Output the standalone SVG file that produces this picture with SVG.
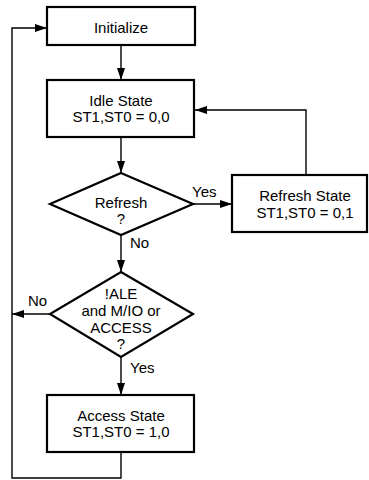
<svg xmlns="http://www.w3.org/2000/svg" width="369" height="480" viewBox="0 0 369 480">
<style>
.box{fill:#fff;stroke:#000;stroke-width:2.2}
.ln{fill:none;stroke:#000;stroke-width:1.4}
text{font-family:"Liberation Sans",Arial,Helvetica,sans-serif;font-size:15px;fill:#000;text-anchor:middle}
.lbl{text-anchor:start}
</style>
<defs>
<marker id="ah" viewBox="0 0 12 8" refX="12" refY="4" markerWidth="12" markerHeight="8" markerUnits="userSpaceOnUse" orient="auto">
<path d="M0,0 L12,4 L0,8 Z" fill="#000"/>
</marker>
</defs>
<g id="connectors">
<path class="ln" d="M121,46 L121,80" marker-end="url(#ah)"/>
<path class="ln" d="M121,137 L121,173" marker-end="url(#ah)"/>
<path class="ln" d="M193,204 L232,204" marker-end="url(#ah)"/>
<path class="ln" d="M306,175 L306,110 L195,110" marker-end="url(#ah)"/>
<path class="ln" d="M121,235 L121,272" marker-end="url(#ah)"/>
<path class="ln" d="M50,314 L12,314" marker-end="url(#ah)"/>
<path class="ln" d="M121,357 L121,395" marker-end="url(#ah)"/>
<path class="ln" d="M121,452 L121,478 L12,478 L12,28 L47,28" marker-end="url(#ah)"/>
<text class="lbl" x="192" y="197">Yes</text>
<text class="lbl" x="130" y="248">No</text>
<text class="lbl" x="28" y="306">No</text>
<text class="lbl" x="130" y="373">Yes</text>
</g>
<g id="initialize">
<rect class="box" x="47" y="7" width="148" height="38"/>
<text x="121" y="33">Initialize</text>
</g>
<g id="idle">
<rect class="box" x="47" y="80" width="147" height="57"/>
<text x="121" y="106">Idle State</text>
<text x="121" y="122">ST1,ST0 = 0,0</text>
</g>
<g id="refresh-q">
<polygon class="box" points="121,173 193,204 121,235 50,204"/>
<text x="121" y="208">Refresh</text>
<text x="121" y="224">?</text>
</g>
<g id="refresh-state">
<rect class="box" x="232" y="175" width="135" height="57"/>
<text x="305" y="201">Refresh State</text>
<text x="305" y="218">ST1,ST0 = 0,1</text>
</g>
<g id="access-q">
<polygon class="box" points="121,272 193,314 121,357 50,314"/>
<text x="121" y="299">!ALE</text>
<text x="121" y="316">and M/IO or</text>
<text x="121" y="333">ACCESS</text>
<text x="121" y="349">?</text>
</g>
<g id="access-state">
<rect class="box" x="47" y="395" width="147" height="57"/>
<text x="121" y="421">Access State</text>
<text x="121" y="437">ST1,ST0 = 1,0</text>
</g>
</svg>
